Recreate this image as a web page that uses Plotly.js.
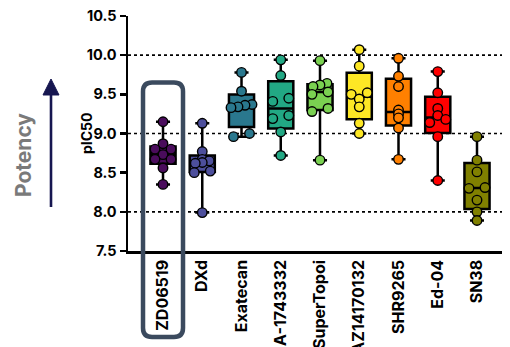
<!DOCTYPE html>
<html><head><meta charset="utf-8">
<script src="https://cdn.plot.ly/plotly-3.0.1.min.js"></script>
<style>html,body{margin:0;padding:0;background:#fff}#chart{width:510px;height:347px}</style>
</head><body><div id="chart"></div>
<script>
// ---- data ----
const categories = ["ZD06519","DXd","Exatecan","A-1743332","SuperTopoi","AZ14170132","SHR9265","Ed-04","SN38"];
const zd06519    = [9.15, 8.87, 8.80, 8.80, 8.73, 8.67, 8.67, 8.56, 8.35];
const dxd        = [9.13, 8.77, 8.67, 8.65, 8.63, 8.62, 8.52, 8.50, 7.99];
const exatecan   = [9.78, 9.54, 9.37, 9.36, 9.34, 9.33, 9.00, 8.96];
const a1743332   = [9.94, 9.74, 9.45, 9.41, 9.23, 9.19, 9.02, 8.72];
const superTopoi = [9.93, 9.64, 9.62, 9.60, 9.53, 9.50, 9.32, 9.28, 8.66];
const az14170132 = [10.07, 9.86, 9.52, 9.50, 9.44, 9.34, 9.13, 9.00];
const shr9265    = [9.96, 9.73, 9.60, 9.30, 9.25, 9.20, 9.07, 8.67];
const ed04       = [9.79, 9.52, 9.32, 9.23, 9.18, 9.14, 8.96, 8.40];
const sn38       = [8.96, 8.66, 8.51, 8.31, 8.30, 8.15, 8.00, 7.89];
const seriesValues = [zd06519, dxd, exatecan, a1743332, superTopoi, az14170132, shr9265, ed04, sn38];
const yTickVals = [7.5, 8.0, 8.5, 9.0, 9.5, 10.0, 10.5];
const gridLevels = [8, 9, 10];
const yTitle = "pIC50";
const sideLabel = "Potency";
const highlightIndex = 0;

// ---- styles ----
const colors = ["#4a0c5c","#4d4f9c","#2a788e","#22a884","#7ad151","#fde725","#ff8000","#ff0000","#808000"];
const FONT = "Inter, 'Liberation Sans', Arial, sans-serif";
const W = 510, H = 347;
const M = {l:128, r:8, t:16, b:96};
const PW = W - M.l - M.r, PH = H - M.t - M.b;
const xRange = [-0.892, 8.637], yRange = [7.5, 10.5];
const pxPerX = PW / (xRange[1] - xRange[0]);
const pxPerY = PH / (yRange[1] - yRange[0]);
const toPaperX = px => (px - M.l) / PW;
const toPaperY = py => (H - M.b - py) / PH;
const dataToPx = x => M.l + (x - xRange[0]) * pxPerX;

function quant(s, p){
  const n = s.length, pos = (n + 1) * p, lo = Math.floor(pos), f = pos - lo;
  if (lo < 1) return s[0];
  if (lo >= n) return s[n-1];
  return s[lo-1] + f * (s[lo] - s[lo-1]);
}

// row-based spread of points (like a scatter dot plot)
function spread(vals){
  const idx = vals.map((v,i)=>i).sort((a,b)=>vals[a]-vals[b]);
  const offs = new Array(vals.length).fill(0);
  const thr = 3.2 / pxPerY;
  let rows = [], cur = null;
  idx.forEach(i=>{
    if (cur && vals[i] - vals[cur[0]] <= thr) cur.push(i);
    else { cur = [i]; rows.push(cur); }
  });
  rows.forEach(r=>{
    const n = r.length; if (n < 2) return;
    const s = (n === 2 ? 16 : 7) / pxPerX;
    r.forEach((i,k)=>{ offs[i] = (k - (n-1)/2) * s; });
  });
  return offs;
}

const traces = [];
seriesValues.forEach((vals, i)=>{
  const s = vals.slice().sort((a,b)=>a-b);
  traces.push({
    type:'box', x:[i], q1:[quant(s,0.25)], median:[quant(s,0.5)], q3:[quant(s,0.75)],
    lowerfence:[s[0]], upperfence:[s[s.length-1]],
    width:0.64, whiskerwidth:0.56, fillcolor:colors[i],
    line:{color:'#000', width:2.5}, boxpoints:false, hoverinfo:'skip', showlegend:false
  });
});
seriesValues.forEach((vals, i)=>{
  const offs = spread(vals);
  traces.push({
    type:'scatter', mode:'markers', x: vals.map((v,k)=> i + offs[k]), y: vals,
    marker:{size:9.5, color:colors[i], line:{color:'#000', width:1.4}},
    hoverinfo:'skip', showlegend:false
  });
});

const shapes = gridLevels.map(g=>({
  type:'line', xref:'paper', x0:0, x1:1, yref:'y', y0:g, y1:g, layer:'below',
  line:{color:'#000', width:1.6, dash:'3px,3px'}
}));

// highlight rounded rectangle around the first category
(function(){
  const cx = dataToPx(highlightIndex);
  const x0 = cx - 20, x1 = cx + 20, y0 = 82.5, y1 = 337, r = 9;
  const P = (x,y)=> toPaperX(x).toFixed(5) + ',' + toPaperY(y).toFixed(5);
  const path = 'M' + P(x0+r,y0) + ' L' + P(x1-r,y0) + ' Q' + P(x1,y0) + ' ' + P(x1,y0+r) +
    ' L' + P(x1,y1-r) + ' Q' + P(x1,y1) + ' ' + P(x1-r,y1) +
    ' L' + P(x0+r,y1) + ' Q' + P(x0,y1) + ' ' + P(x0,y1-r) +
    ' L' + P(x0,y0+r) + ' Q' + P(x0,y0) + ' ' + P(x0+r,y0) + ' Z';
  shapes.push({type:'path', xref:'paper', yref:'paper', path, layer:'above',
    line:{color:'#3b4a5e', width:4.5}});
  // arrow
  const ax = 51;
  shapes.push({type:'line', xref:'paper', yref:'paper', x0:toPaperX(ax), x1:toPaperX(ax),
    y0:toPaperY(207), y1:toPaperY(92), line:{color:'#161650', width:2.6}});
  const tri = 'M' + P(ax-8,95) + ' L' + P(ax+8,95) + ' L' + P(ax,79) + ' Z';
  shapes.push({type:'path', xref:'paper', yref:'paper', path:tri, fillcolor:'#161650',
    line:{color:'#161650', width:1}});
})();

const annotations = [
  {xref:'paper', yref:'paper', x:toPaperX(86), y:toPaperY(133), text:yTitle, showarrow:false,
   textangle:-90, xanchor:'center', yanchor:'middle',
   font:{family:FONT, size:14, color:'#000', weight:700}},
  {xref:'paper', yref:'paper', x:toPaperX(23), y:toPaperY(155), text:sideLabel, showarrow:false,
   textangle:-90, xanchor:'center', yanchor:'middle',
   font:{family:FONT, size:21, color:'#7a7a7a', weight:700}}
];

const layout = {
  width:W, height:H, margin:M, paper_bgcolor:'#fff', plot_bgcolor:'#fff',
  showlegend:false, boxmode:'overlay',
  xaxis:{range:xRange, tickvals:categories.map((c,i)=>i), ticktext:categories, tickangle:-90,
    showline:true, linewidth:2.5, linecolor:'#000', ticks:'', showgrid:false, zeroline:false,
    tickfont:{family:FONT, size:16, color:'#000', weight:700}, fixedrange:true},
  yaxis:{range:yRange, tickvals:yTickVals, ticktext:yTickVals.map(v=>v.toFixed(1)),
    ticks:'outside', ticklen:6, tickwidth:2.5, tickcolor:'#000',
    showline:true, linewidth:2.5, linecolor:'#000', showgrid:false, zeroline:false,
    tickfont:{family:FONT, size:14.5, color:'#000', weight:700}, fixedrange:true},
  shapes, annotations
};

Plotly.newPlot('chart', traces, layout, {displayModeBar:false, staticPlot:true});
</script>
</body></html>
